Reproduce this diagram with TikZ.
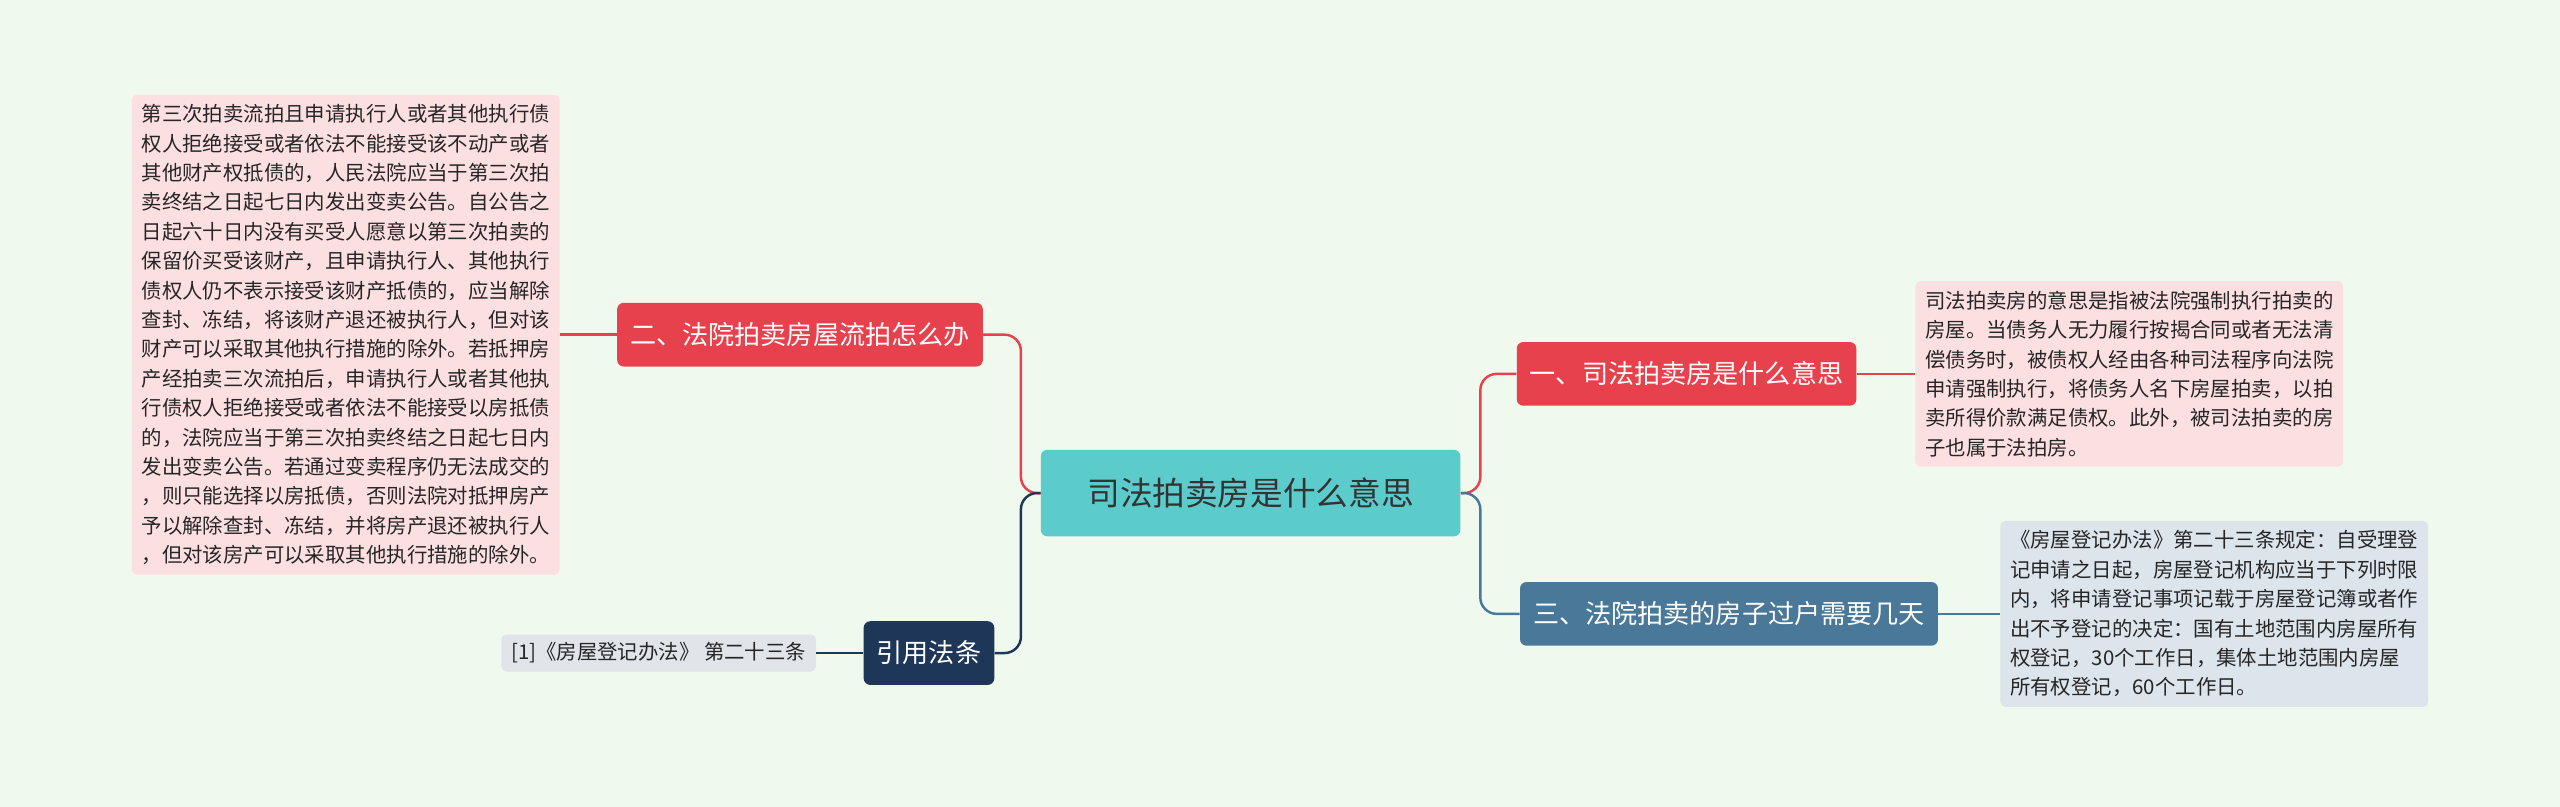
\documentclass[tikz,border=0pt]{standalone}
\usepackage{fontspec}
\setmainfont{Noto Sans CJK SC}
\definecolor{bgc}{HTML}{F0F9EE}
\definecolor{rootc}{HTML}{5CCBCB}
\definecolor{redc}{HTML}{E8414E}
\definecolor{bluec}{HTML}{4A7898}
\definecolor{navyc}{HTML}{1E3658}
\definecolor{pinkc}{HTML}{FCDFE1}
\definecolor{greyc}{HTML}{DCE4EC}
\definecolor{citec}{HTML}{E1E4E9}
\tikzset{
  rootbox/.style={fill=rootc, rounded corners=4pt, minimum width=257pt, minimum height=53pt, font=\fontsize{20}{24}\selectfont, text=black!80},
  mainbox/.style={fill=#1, rounded corners=4pt, minimum height=39pt, text=white, font=\fontsize{16}{20}\selectfont, inner xsep=8pt},
  leafbox/.style={fill=#1, rounded corners=3pt, align=left, inner sep=6pt, font=\fontsize{12.5}{18}\selectfont, text=black!85},
  link/.style={draw=#1, line width=1.5pt, rounded corners=10pt}
}
\begin{document}
\begin{tikzpicture}[x=1pt,y=-1pt]
\fill[bgc] (0,0) rectangle (1568,494);
\useasboundingbox (0,0) rectangle (1568,494);

\node[rootbox] (root) at (766,302) {司法拍卖房是什么意思};
\node[mainbox=redc] (yi) at (1033,229) {一、司法拍卖房是什么意思};
\node[mainbox=bluec] (san) at (1059,376) {三、法院拍卖的房子过户需要几天};
\node[mainbox=redc] (er) at (490,205) {二、法院拍卖房屋流拍怎么办};
\node[mainbox=navyc] (cite) at (569,400) {引用法条};

\node[leafbox=pinkc, anchor=west] (yileaf) at (1173,229) {司法拍卖房的意思是指被法院强制执行拍卖的\\房屋。当债务人无力履行按揭合同或者无法清\\偿债务时，被债权人经由各种司法程序向法院\\申请强制执行，将债务人名下房屋拍卖，以拍\\卖所得价款满足债权。此外，被司法拍卖的房\\子也属于法拍房。};
\node[leafbox=greyc, anchor=west] (sanleaf) at (1225,376) {《房屋登记办法》第二十三条规定：自受理登\\记申请之日起，房屋登记机构应当于下列时限\\内，将申请登记事项记载于房屋登记簿或者作\\出不予登记的决定：国有土地范围内房屋所有\\权登记，30个工作日，集体土地范围内房屋\\所有权登记，60个工作日。};
\node[leafbox=pinkc, anchor=east] (erleaf) at (343,205) {第三次拍卖流拍且申请执行人或者其他执行债\\权人拒绝接受或者依法不能接受该不动产或者\\其他财产权抵债的，人民法院应当于第三次拍\\卖终结之日起七日内发出变卖公告。自公告之\\日起六十日内没有买受人愿意以第三次拍卖的\\保留价买受该财产，且申请执行人、其他执行\\债权人仍不表示接受该财产抵债的，应当解除\\查封、冻结，将该财产退还被执行人，但对该\\财产可以采取其他执行措施的除外。若抵押房\\产经拍卖三次流拍后，申请执行人或者其他执\\行债权人拒绝接受或者依法不能接受以房抵债\\的，法院应当于第三次拍卖终结之日起七日内\\发出变卖公告。若通过变卖程序仍无法成交的\\，则只能选择以房抵债，否则法院对抵押房产\\予以解除查封、冻结，并将房产退还被执行人\\，但对该房产可以采取其他执行措施的除外。};
\node[leafbox=citec, anchor=east, inner ysep=5pt] (citeleaf) at (500,400) {[1]《房屋登记办法》 第二十三条};

% 主干
\draw[link=redc] (root.east) -- ++(12,0) |- (yi.west);
\draw[link=bluec] (root.east) -- ++(12,0) |- (san.west);
\draw[link=redc] (root.west) -- ++(-12,0) |- (er.east);
\draw[link=navyc] (root.west) -- ++(-12,0) |- (cite.east);
% 叶子
\draw[redc, line width=1.5pt] (yi.east) -- (yileaf.west);
\draw[bluec, line width=1.5pt] (san.east) -- (sanleaf.west);
\draw[redc, line width=1.5pt] (er.west) -- (erleaf.east);
\draw[navyc, line width=1.5pt] (cite.west) -- (citeleaf.east);
\end{tikzpicture}
\end{document}
